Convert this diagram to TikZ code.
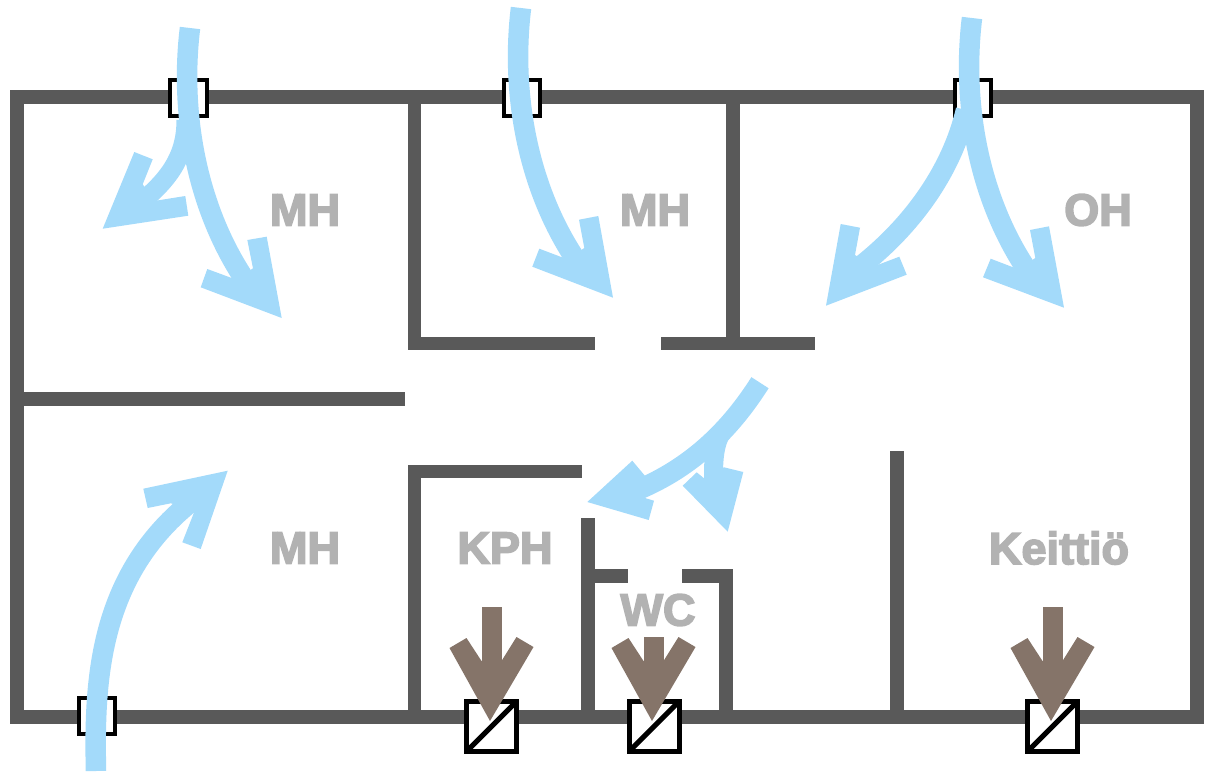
\documentclass[tikz,border=0pt]{standalone}
\usepackage{fontspec}
\setmainfont{Liberation Sans}
\newcommand{\heavytext}[1]{\special{pdf:code 2 Tr 1.6 w}#1\special{pdf:code 0 Tr 1 w}}
\definecolor{wallc}{HTML}{595959}
\definecolor{airc}{HTML}{A3DAFA}
\definecolor{exhc}{HTML}{857469}
\definecolor{labc}{HTML}{B2B2B2}
\tikzset{
  wall/.style={draw=wallc,line width=14,line cap=butt},
  thin wall/.style={draw=wallc,line width=13.5,line cap=butt},
  shaft/.style={draw=airc,line width=20.5},
  head/.style={fill=airc},
  vent/.style={draw=black,fill=white,line width=4},
  roomlabel/.style={text=labc,font=\bfseries\fontsize{45}{45}\selectfont,inner sep=0},
  exhshaft/.style={draw=exhc,line width=20},
  exhhead/.style={fill=exhc},
}
\begin{document}
\begin{tikzpicture}[x=1pt,y=-1pt]
\useasboundingbox (0,0) rectangle (1207,771);
% walls
\draw[wall] (16.5,97) rectangle (1197,717);
\draw[thin wall] (414.5,97) -- (414.5,350);
\draw[thin wall] (408,343.5) -- (595,343.5);
\draw[thin wall] (661,343.5) -- (815,343.5);
\draw[thin wall] (733,97) -- (733,343);
\draw[thin wall] (16,399) -- (405,399);
\draw[thin wall] (408,471.5) -- (582,471.5);
\draw[thin wall] (414.5,465) -- (414.5,717);
\draw[thin wall] (588,518) -- (588,717);
\draw[thin wall] (588,576) -- (628,576);
\draw[thin wall] (682,576) -- (733,576);
\draw[thin wall] (726,570) -- (726,717);
\draw[thin wall] (897,451) -- (897,717);
% supply vents
\draw[vent] (170,79.5) rectangle (207,116);
\draw[vent] (504,79.5) rectangle (540,116);
\draw[vent] (955,79.5) rectangle (991,116);
\draw[vent] (79,698) rectangle (115,734);
% exhaust vents
\foreach \x in {466.5,629,1027.5}{
  \draw[vent,line width=5] (\x,701.5) rectangle +(50,50);
  \draw[black,line width=5] (\x,751.5) -- +(50,-50);
}
% room labels
\node[roomlabel] at (305,210) {\heavytext{MH}};
\node[roomlabel] at (655,210) {\heavytext{MH}};
\node[roomlabel] at (1098,210) {\heavytext{OH}};
\node[roomlabel] at (305,548) {\heavytext{MH}};
\node[roomlabel] at (505,548) {\heavytext{KPH}};
\node[roomlabel] at (658,610) {\heavytext{WC}};
\node[roomlabel] at (1059,548) {\heavytext{Keittiö}};
% air arrows: top-left
\draw[shaft] (190,28) .. controls (180,110) and (195,205) .. (245,280);
\fill[head] (281.7,318) -- (266.7,236.7) -- (247.3,240) -- (253,268.3) -- (236,279.6) -- (207.3,269) -- (200.7,287.3) -- cycle;
\draw[shaft,line width=19] (186,120) .. controls (186,150) and (175,175) .. (140,203);
\fill[head] (102.7,228.7) -- (134.3,152) -- (152.7,159.3) -- (142.7,184.3) -- (154,201) -- (185.3,196) -- (188.3,215.7) -- cycle;
% top-middle
\draw[shaft] (521,8) .. controls (511,90) and (526,185) .. (576,260);
\fill[head] (613,297.7) -- (598.3,216) -- (579,219.7) -- (584.3,248) -- (567.3,259.3) -- (539.3,248.7) -- (532.3,266.7) -- cycle;
% top-right
\draw[shaft] (972,18) .. controls (962,100) and (977,195) .. (1027,270);
\fill[head] (1064,307.7) -- (1049,226.3) -- (1030,230) -- (1035.3,258) -- (1018.3,269.3) -- (990.7,258.7) -- (983,277.3) -- cycle;
\draw[shaft] (966,110) .. controls (952,170) and (912,228) .. (853,272);
\fill[head] (826,305.7) -- (840.7,224) -- (860,227.7) -- (855,255) -- (873,266.7) -- (899.3,256.7) -- (906.7,274.7) -- cycle;
% corridor
\draw[shaft] (760,382.7) .. controls (730,430) and (690,470) .. (630,493);
\fill[head] (587.3,502) -- (632.3,460.7) -- (645.7,476.7) -- (645,498) -- (654,500.7) -- (648.7,520) -- cycle;
\draw[shaft,line width=19] (725,428) .. controls (716,438) and (712,455) .. (714,490);
\fill[head] (727.7,531.7) -- (743.3,472) -- (724,467.3) -- (704,478.3) -- (696.7,472.3) -- (682.7,485.7) -- cycle;
% bottom-left
\draw[shaft] (96,771) .. controls (94,680) and (98,570) .. (200,495);
\fill[head] (227.7,470.7) -- (143.3,488.7) -- (147.7,508) -- (170.7,503.3) -- (195,510) -- (182.3,542.3) -- (200.7,549) -- cycle;
% exhaust arrows
\foreach \x/\yt in {491.5/607,653.5/637,1052.5/607}{
  \draw[exhshaft] (\x,\yt) -- (\x,680);
  \fill[exhhead] (\x-1.5,721) -- (\x+42,647) -- (\x+25,637) -- (\x+10,661) -- (\x-10,661) -- (\x-25,638) -- (\x-42,648) -- cycle;
}
\end{tikzpicture}
\end{document}
